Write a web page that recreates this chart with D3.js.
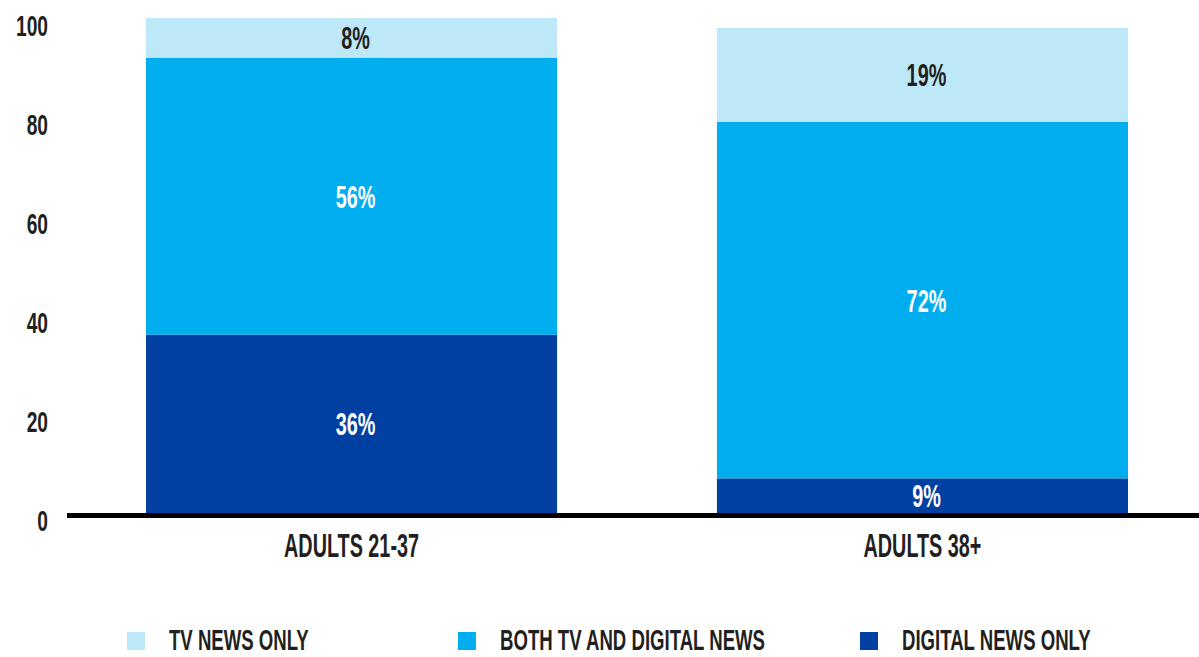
<!DOCTYPE html>
<html>
<head>
<meta charset="utf-8">
<script src="https://cdn.jsdelivr.net/npm/d3@7"></script>
<style>
  html, body { margin: 0; padding: 0; background: #fff; }
  text { font-family: "Liberation Sans", Arial, sans-serif; font-weight: bold; }
</style>
</head>
<body>
<div id="chart"></div>
<script>
// categories and series
const groups = ["ADULTS 21-37", "ADULTS 38+"];
const digitalOnly = [36, 7];
const bothTvDigital = [56, 72];
const tvOnly = [8, 19];
// printed labels
const digitalLabels = ["36%", "9%"];
const bothLabels = ["56%", "72%"];
const tvLabels = ["8%", "19%"];
const yTicks = [0, 20, 40, 60, 80, 100];
const legendNames = ["TV NEWS ONLY", "BOTH TV AND DIGITAL NEWS", "DIGITAL NEWS ONLY"];

function init() {
    const w = 1199, h = 657;
    const colors = { digital: "#0040a0", both: "#00adef", tv: "#bde8f8" };

    const data = groups.map((g, i) => ({
        group: g,
        digital: digitalOnly[i],
        both: bothTvDigital[i],
        tv: tvOnly[i],
        labels: { digital: digitalLabels[i], both: bothLabels[i], tv: tvLabels[i] }
    }));
    const keys = ["digital", "both", "tv"];
    const stacked = d3.stack().keys(keys)(data);

    const x = d3.scaleBand()
                .domain(groups)
                .range([146, 1128])
                .paddingInner(0.28)
                .paddingOuter(0);

    const y = d3.scaleLinear()
                .domain([0, 100])
                .range([513, 18]);

    const svg = d3.select("#chart")
                  .append("svg")
                  .attr("width", w)
                  .attr("height", h);

    // squeezed text helper (the original uses a condensed display face)
    function label(parent, px, py, str, size, sx, anchor, fill) {
        return parent.append("text")
            .attr("transform", `translate(${px},${py}) scale(${sx},1)`)
            .attr("text-anchor", anchor)
            .attr("font-size", size)
            .attr("fill", fill)
            .text(str);
    }

    // bars
    stacked.forEach(layer => {
        const key = layer.key;
        svg.append("g")
            .selectAll("rect")
            .data(layer)
            .join("rect")
            .attr("x", d => x(d.data.group))
            .attr("width", x.bandwidth())
            .attr("y", d => y(d[1]))
            .attr("height", d => y(d[0]) - y(d[1]))
            .attr("fill", colors[key]);
    });

    // value labels
    const vl = svg.append("g");
    stacked.forEach(layer => {
        const key = layer.key;
        layer.forEach(d => {
            const cx = x(d.data.group) + x.bandwidth() / 2 + 4;
            const cy = (y(d[0]) + y(d[1])) / 2 + 11.5;
            label(vl, cx, cy, d.data.labels[key], 32, 0.62, "middle",
                  key === "tv" ? "#231f20" : "#ffffff");
        });
    });

    // y tick labels
    const yl = svg.append("g");
    yTicks.forEach(t => label(yl, 48, y(t) + 18, t, 30, 0.64, "end", "#231f20"));

    // baseline
    svg.append("line")
        .attr("x1", 67)
        .attr("x2", w)
        .attr("y1", y(0) + 2.5)
        .attr("y2", y(0) + 2.5)
        .attr("stroke", "#000")
        .attr("stroke-width", 5);

    // category labels
    const xl = svg.append("g");
    groups.forEach(g => label(xl, x(g) + x.bandwidth() / 2, 557, g, 33, 0.6, "middle", "#231f20"));

    // legend
    const legendX = [127, 458, 860];
    const legendColors = [colors.tv, colors.both, colors.digital];
    const legend = svg.append("g");
    legendNames.forEach((name, i) => {
        legend.append("rect")
            .attr("x", legendX[i])
            .attr("y", 632)
            .attr("width", 18)
            .attr("height", 18)
            .attr("fill", legendColors[i]);
        label(legend, legendX[i] + 42, 650, name, 30, 0.62, "start", "#231f20");
    });
}

window.onload = init;
</script>
</body>
</html>
